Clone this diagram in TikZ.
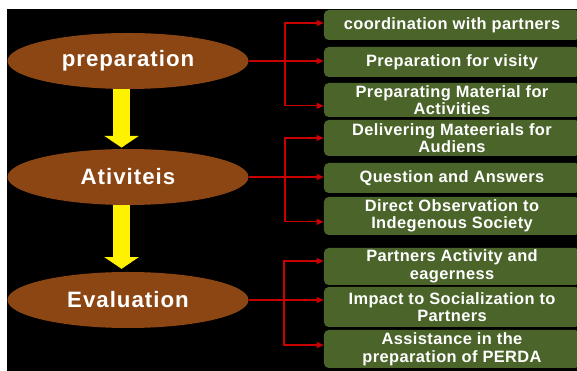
\documentclass[tikz,border=0pt]{standalone}
\usepackage{fontspec}
\setmainfont{Liberation Sans}
\usepackage{tikz}
\usetikzlibrary{shapes,arrows.meta,positioning,calc}

\definecolor{stagebrown}{RGB}{139,70,19}
\definecolor{taskgreen}{RGB}{75,100,42}
\definecolor{linkred}{RGB}{200,0,0}

\tikzset{
  stage/.style={ellipse, fill=stagebrown, text=white, inner sep=0pt,
    minimum width=7.23cm, minimum height=1.68cm,
    font=\bfseries\fontsize{19}{20}\selectfont\addfontfeatures{LetterSpace=4.5}},
  task/.style={rectangle, rounded corners=4pt, fill=taskgreen, text=white,
    inner sep=0pt, minimum width=7.68cm, align=center,
    font=\bfseries\fontsize{14}{15}\selectfont\addfontfeatures{LetterSpace=2.5}},
  link/.style={draw=linkred, line width=0.9pt, -{Triangle[length=6pt,width=5pt]}},
  flow/.style={draw=yellow, line width=14.5pt, -{Triangle[length=10pt,width=29pt]}}
}

\begin{document}
\begin{tikzpicture}[x=0.03cm, y=-0.03cm]
    \useasboundingbox (0,0) rectangle (577,371);
    \fill[black] (7,9) rectangle (577,371);
    \begin{scope}
    \clip (7,9) rectangle (577,371);

    % Stages
    \node[stage] (prep) at (128,61) {preparation};
    \node[stage] (act) at (128,177) {Ativiteis};
    \node[stage] (eval) at (128,300) {Evaluation};

    % Stage to stage
    \draw[flow] ([xshift=-5.5pt]prep.south) -- ([xshift=-5.5pt,yshift=1pt]act.north);
    \draw[flow] ([xshift=-5.5pt]act.south) -- ([xshift=-5.5pt,yshift=2.5pt]eval.north);

    % Tasks
    \node[task, minimum height=0.9cm] (t1) at (452,25) {coordination with partners};
    \node[task, minimum height=0.9cm] (t2) at (452,62) {Preparation for visity};
    \node[task, minimum height=1.02cm] (t3) at (452,100) {Preparating Material for\\Activities};
    \node[task, minimum height=1.08cm] (t4) at (452,138) {Delivering Mateerials for\\Audiens};
    \node[task, minimum height=0.9cm] (t5) at (452,178) {Question and Answers};
    \node[task, minimum height=1.14cm] (t6) at (452,216) {Direct Observation to\\Indegenous Society};
    \node[task, minimum height=1.11cm] (t7) at (452,266.5) {Partners Activity and\\eagerness};
    \node[task, minimum height=1.2cm] (t8) at (452,307) {Impact to Socialization to\\Partners};
    \node[task, minimum height=1.14cm] (t9) at (452,349) {Assistance in the\\preparation of PERDA};

    % Links
    \coordinate (j1) at (285,61);
    \coordinate (j2) at (285,177);
    \coordinate (j3) at (284,300);
    \draw[link] (prep.east) -- (prep.east -| t2.west);
    \draw[link] (j1) |- ([yshift=1.7pt]t1.west);
    \draw[link] (j1) |- ([yshift=-5pt]t3.west);
    \draw[link] (act.east) -- (act.east -| t5.west);
    \draw[link] (j2) |- (t4.west);
    \draw[link] (j2) |- ([yshift=-5pt]t6.west);
    \draw[link] (eval.east) -- (eval.east -| t8.west);
    \draw[link] (j3) |- ([yshift=4.7pt]t7.west);
    \draw[link] (j3) |- ([yshift=3.4pt]t9.west);
    \end{scope}
\end{tikzpicture}
\end{document}
